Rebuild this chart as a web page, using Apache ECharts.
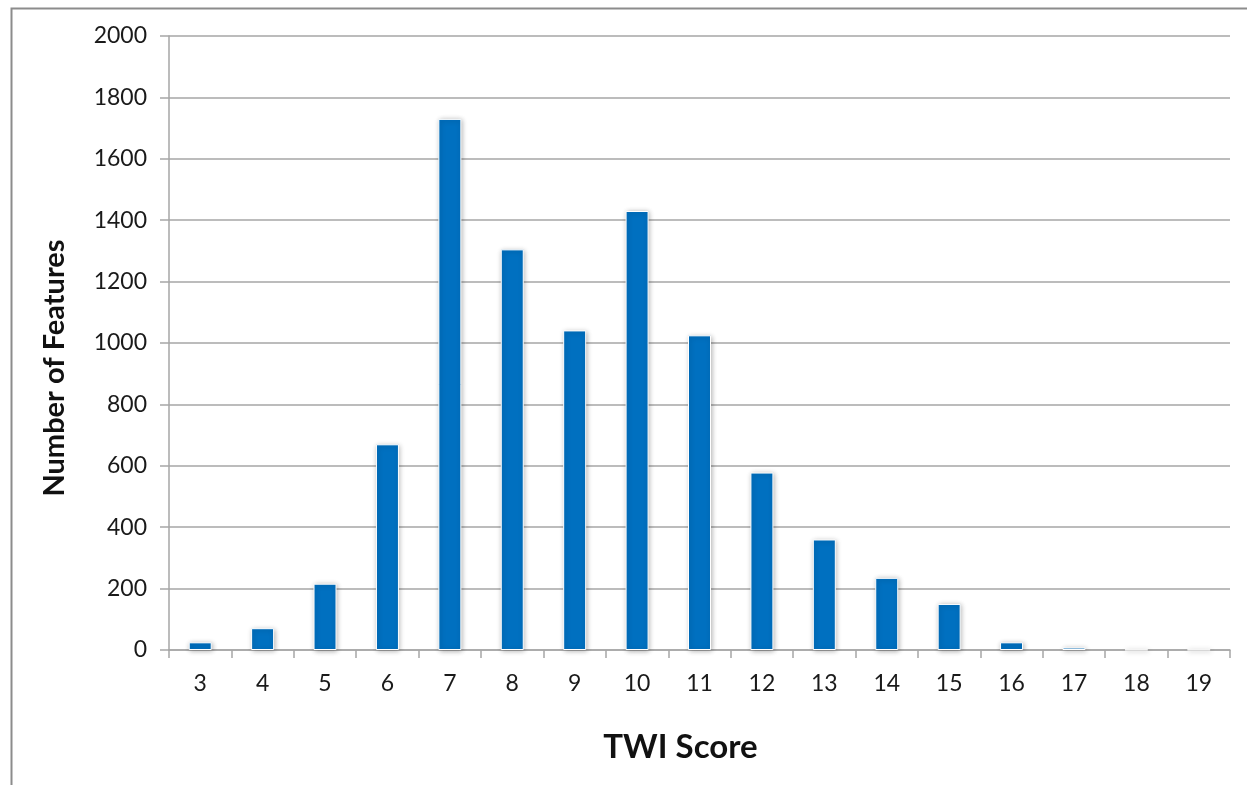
<!DOCTYPE html>
<html><head><meta charset="utf-8">
<script src="https://cdn.jsdelivr.net/npm/echarts@6/dist/echarts.min.js"></script>
<style>html,body{margin:0;padding:0;background:#fff;}#c{width:1247px;height:785px;}</style>
</head><body><div id="c"></div>
<script>
const categories = ['3','4','5','6','7','8','9','10','11','12','13','14','15','16','17','18','19'];
const counts = [25, 71, 216, 670, 1730, 1305, 1041, 1430, 1025, 578, 360, 235, 150, 25, 8, 1, 1];
const yTicks = {min: 0, max: 2000, interval: 200};

const chart = echarts.init(document.getElementById('c'));
const font = 'Lato, "Open Sans", sans-serif';
chart.setOption({
  animation: false,
  backgroundColor: '#fff',
  graphic: [{
    type: 'rect', left: 9, top: 6, silent: true,
    shape: {x: 0, y: 0, width: 1400, height: 900},
    style: {fill: 'none', stroke: '#8c8c8c', lineWidth: 2}
  }],
  grid: {left: 169, right: 17, top: 36, bottom: 135},
  xAxis: {
    type: 'category', data: categories,
    name: 'TWI Score', nameLocation: 'middle', nameGap: 81,
    nameTextStyle: {fontFamily: font, fontWeight: 'bold', fontSize: 33, color: '#111', padding: [0, 38, 0, 0]},
    axisLine: {lineStyle: {color: '#a6a6a6', width: 1.5}},
    axisTick: {show: true, length: 8, lineStyle: {color: '#a6a6a6', width: 1.5}},
    axisLabel: {fontFamily: font, fontSize: 23, color: '#1a1a1a', margin: 22}
  },
  yAxis: {
    type: 'value', min: yTicks.min, max: yTicks.max, interval: yTicks.interval,
    name: 'Number of Features', nameLocation: 'middle', nameGap: 100,
    nameTextStyle: {fontFamily: font, fontWeight: 'bold', fontSize: 29, color: '#111', padding: [0, 50, 0, 0]},
    axisLine: {show: true, lineStyle: {color: '#a6a6a6', width: 1.5}},
    axisTick: {show: true, length: 9, lineStyle: {color: '#a6a6a6', width: 1.5}},
    splitLine: {lineStyle: {color: '#a6a6a6', width: 1.5}},
    axisLabel: {fontFamily: font, fontSize: 23, color: '#1a1a1a', margin: 22, formatter: v => String(v)}
  },
  series: [{
    type: 'bar', data: counts, barWidth: 23,
    itemStyle: {color: '#0070C0', borderColor: '#ffffff', borderWidth: 1,
      shadowBlur: 5, shadowColor: 'rgba(0,0,0,0.3)', shadowOffsetX: 1, shadowOffsetY: 1}
  }]
});
</script></body></html>
